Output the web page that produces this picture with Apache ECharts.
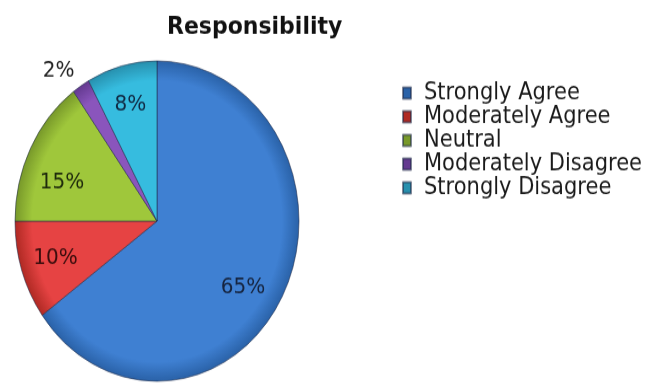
<!DOCTYPE html>
<html lang="en">
<head>
    <meta charset="utf-8">
    <title>Responsibility</title>
    <style>
        html { overflow: hidden; }
        body { margin: 0; padding: 0; background: #fff; height: 387px; }
        /* the reference picture is stretched vertically, so the chart is too */
        #main { width: 664px; height: 343px; transform: scaleY(1.128); transform-origin: 0 0; }
    </style>
</head>
<body>
<div id="main"></div>
<script src="https://cdn.jsdelivr.net/npm/echarts@6/dist/echarts.min.js"></script>
<script>
    var categories = ['Strongly Agree', 'Moderately Agree', 'Neutral', 'Moderately Disagree', 'Strongly Disagree'];
    var values = [65, 10, 15, 2, 8];
    var colors = ['#3f80d2', '#e64343', '#9fc73b', '#8a55bc', '#36bcdf'];
    var edges = ['#2a62a8', '#b02a24', '#78992a', '#643a90', '#2790ae'];
    var labelColors = ['#16243f', '#3a0d0d', '#1e2a0c', '#222222', '#102a44'];

    var cx = 157, cy = 196, r = 142;

    function shade(i) {
        return {
            type: 'radial', x: cx, y: cy, r: r, global: true,
            colorStops: [
                {offset: 0, color: colors[i]},
                {offset: 0.88, color: colors[i]},
                {offset: 1, color: edges[i]}
            ]
        };
    }

    var pieData = [];
    var labelData = [];
    for (var i = 0; i < categories.length; i++) {
        pieData.push({name: categories[i], value: values[i], itemStyle: {color: shade(i)}});
        var item = {name: categories[i], value: values[i], label: {color: labelColors[i]}};
        if (values[i] < 5) {
            item.label.position = 'outside';
            item.labelLine = {show: false, length: 12, length2: 0};
        }
        labelData.push(item);
    }

    var myChart = echarts.init(document.getElementById('main'));
    var option = {
        animation: false,
        color: colors,
        title: {
            text: 'Responsibility',
            left: 162,
            top: 8,
            textStyle: {fontFamily: 'DejaVu Sans', fontWeight: 'bold', fontSize: 22, color: '#111'}
        },
        legend: {
            orient: 'vertical',
            left: 397,
            top: 67,
            icon: 'rect',
            itemWidth: 8,
            itemHeight: 10,
            itemGap: 0,
            data: categories,
            textStyle: {fontFamily: 'DejaVu Sans', fontSize: 21, lineHeight: 20, color: '#1a1a1a', padding: [0, 0, 0, 8]}
        },
        series: [{
            type: 'pie',
            center: [cx, cy],
            radius: [0, r],
            startAngle: 90,
            clockwise: true,
            silent: true,
            label: {show: false},
            labelLine: {show: false},
            itemStyle: {borderColor: 'rgba(30,40,70,0.55)', borderWidth: 1},
            data: pieData
        }, {
            type: 'pie',
            center: [cx, cy],
            radius: [r * 0.46, r],
            startAngle: 90,
            clockwise: true,
            silent: true,
            itemStyle: {color: 'rgba(0,0,0,0)'},
            label: {
                show: true,
                position: 'inside',
                formatter: '{c}%',
                fontFamily: 'DejaVu Sans',
                fontSize: 20
            },
            labelLine: {show: false},
            labelLayout: function (p) {
                // nudge labels to where the original chart put them
                if (p.dataIndex === 0) return {dx: -9, dy: 10};
                if (p.dataIndex === 2) return {dy: 14};
                if (p.dataIndex === 3) return {dx: 5, dy: -3};
                return {};
            },
            data: labelData
        }]
    };
    myChart.setOption(option);
</script>
</body>
</html>
